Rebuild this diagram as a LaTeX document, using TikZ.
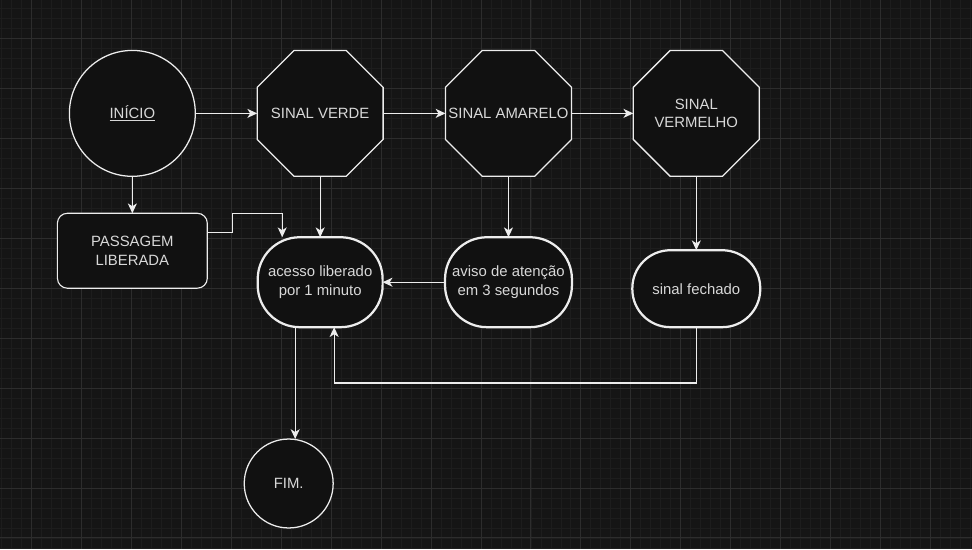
\documentclass[tikz,border=0pt]{standalone}
\usepackage{fontspec}
\setmainfont{Liberation Sans}
\usetikzlibrary{arrows.meta,positioning,calc,shapes.geometric}
\definecolor{bgcol}{HTML}{151515}
\definecolor{minorcol}{HTML}{1D1D1D}
\definecolor{majorcol}{HTML}{2D2D2D}
\definecolor{shapefill}{HTML}{111111}
\definecolor{linecol}{HTML}{EDEDED}
\definecolor{txtcol}{HTML}{D8D8D8}

\begin{document}
\begin{tikzpicture}[x=0.025cm, y=-0.025cm,
	every node/.style={font=\fontsize{10.6}{13.5}\selectfont, text=txtcol, align=center},
	octa/.style={draw=linecol, fill=shapefill, line width=0.9pt, regular polygon, regular polygon sides=8, minimum size=3.41cm, inner sep=0pt, outer sep=0pt},
	term/.style={draw=linecol, fill=shapefill, line width=0.9pt, circle, inner sep=0pt, outer sep=0pt},
	pilula/.style={draw=linecol, fill=shapefill, line width=1.6pt, rectangle, rounded corners=1.05cm, inner sep=0pt, outer sep=0pt},
	caixa/.style={draw=linecol, fill=shapefill, line width=0.8pt, rectangle, rounded corners=0.25cm, minimum width=3.75cm, minimum height=1.875cm, outer sep=0pt},
	conn/.style={draw=linecol, line width=0.9pt, -{Stealth[length=7pt, width=6.4pt, inset=2pt]}}]
		% Background grid
		\fill[bgcol] (0,0) rectangle (972,549);
		\foreach \x in {1,11,...,971} {
			\draw[minorcol, line width=0.6pt] (\x,0) -- (\x,549);
		}
		\foreach \y in {8,18,...,548} {
			\draw[minorcol, line width=0.6pt] (0,\y) -- (972,\y);
		}
		\foreach \x in {31,81,...,931} {
			\draw[majorcol, line width=0.7pt] (\x,0) -- (\x,549);
		}
		\foreach \y in {38,88,...,538} {
			\draw[majorcol, line width=0.7pt] (0,\y) -- (972,\y);
		}
		\useasboundingbox (0,0) rectangle (972,549);
		
		% Signal states
		\node[term, minimum size=3.15cm] (inicio) at (132,113) {\underline{INÍCIO}};
		\node[octa, label={center:SINAL VERDE}] (verde) at (320,113) {};
		\node[octa, label={center:SINAL AMARELO}] (amarelo) at (508.5,113) {};
		\node[octa, label={center:{SINAL\\VERMELHO}}] (vermelho) at (696.5,113) {};
		
		% Actions
		\node[caixa] (passagem) at (132,250.5) {PASSAGEM\\LIBERADA};
		\node[pilula, minimum width=3.125cm, minimum height=2.25cm] (acesso) at (320,282) {acesso liberado\\por 1 minuto};
		\node[pilula, minimum width=3.175cm, minimum height=2.25cm] (aviso) at (508.5,282) {aviso de atenção\\em 3 segundos};
		\node[pilula, rounded corners=0.95cm, minimum width=3.2cm, minimum height=1.925cm] (fechado) at (696.5,288.5) {sinal fechado};
		\node[term, minimum size=2.225cm] (fim) at (288.5,483.5) {FIM.};
		
		% Main flow
		\draw[conn] (inicio) -- (verde);
		\draw[conn] (verde) -- (amarelo);
		\draw[conn] (amarelo) -- (vermelho);
		\draw[conn] (inicio) -- (passagem);
		\draw[conn] (verde) -- (acesso);
		\draw[conn] (amarelo) -- (aviso);
		\draw[conn] (vermelho) -- (fechado);
		\draw[conn] (aviso) -- (acesso);
		
		% Elbow connectors
		\coordinate (dobra) at (232,213);
		\coordinate (entrada) at (282,213);
		\draw[conn] ([yshift=0.46cm]passagem.east) -| (dobra) -- (entrada) -- (entrada |- acesso.north);
		\coordinate (retorno) at (334,383);
		\draw[conn] (fechado.south) |- (retorno) -- (retorno |- acesso.south);
		\coordinate (saida) at (295,400);
		\draw[conn] (saida |- acesso.south) -- (saida |- fim.north);
	\end{tikzpicture}
\end{document}
